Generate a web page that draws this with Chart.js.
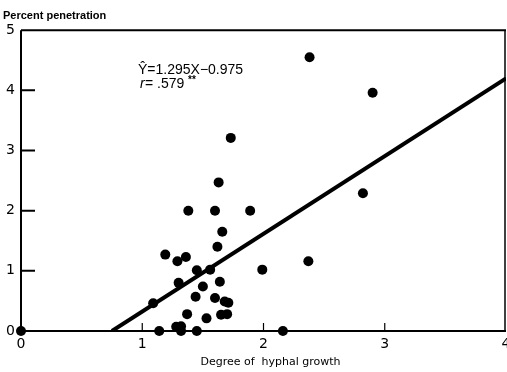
<!DOCTYPE html>
<html lang="en">
<head>
    <meta charset="UTF-8">
    <title>Percent penetration vs hyphal growth</title>
    <script src="https://cdn.jsdelivr.net/npm/chart.js"></script>
    <style>
        html, body { margin: 0; padding: 0; background: #fff; }
        canvas { display: block; }
    </style>
</head>
<body>
    <canvas id="chart" width="507" height="372"></canvas>

    <script>
        // observed points: degree of hyphal growth (x) vs percent penetration (y)
        const hyphalGrowth = [0, 1.09, 1.14, 1.19, 1.28, 1.29, 1.30, 1.32, 1.32, 1.36, 1.37, 1.38, 1.44, 1.45, 1.45, 1.50, 1.53, 1.56,
            1.60, 1.60, 1.62, 1.63, 1.64, 1.65, 1.66, 1.68, 1.70, 1.71, 1.73, 1.89, 1.99, 2.16, 2.37, 2.38, 2.82, 2.90];
        const penetration = [0, 0.46, 0, 1.27, 0.07, 1.16, 0.80, 0.08, 0, 1.23, 0.28, 2.0, 0.57, 1.01, 0, 0.74, 0.21, 1.02,
            2.0, 0.55, 1.40, 2.47, 0.82, 0.27, 1.65, 0.49, 0.28, 0.47, 3.21, 2.0, 1.02, 0, 1.16, 4.55, 2.29, 3.96];

        // regression line endpoints (Y = 1.295X - 0.975, from x-intercept to right edge)
        const fitX = [0.75, 4];
        const fitY = [0, 4.2];

        const xTicks = [0, 1, 2, 3, 4];
        const yTicks = [0, 1, 2, 3, 4, 5];

        const FONT = "'DejaVu Sans', sans-serif";
        const TEXT_FONT = "'Liberation Sans', Arial, sans-serif";

        // frame, inward tick marks and the equation text
        const framePlugin = {
            id: 'frame',
            afterDraw(chart) {
                const ctx = chart.ctx;
                const a = chart.chartArea;
                const xs = chart.scales.x, ys = chart.scales.y;
                ctx.save();
                ctx.strokeStyle = '#000';
                ctx.lineWidth = 2;
                ctx.beginPath();
                ctx.moveTo(a.left, a.top);
                ctx.lineTo(a.left, a.bottom);
                ctx.lineTo(a.right, a.bottom);
                ctx.moveTo(a.left, a.top);
                ctx.lineTo(a.right, a.top);
                ctx.stroke();
                ctx.lineWidth = 1.5;
                ctx.beginPath();
                ctx.moveTo(a.right - 1, a.top);
                ctx.lineTo(a.right - 1, a.bottom);
                ctx.stroke();

                ctx.lineWidth = 2;
                ctx.beginPath();
                yTicks.slice(1, -1).forEach(v => {
                    const y = ys.getPixelForValue(v);
                    ctx.moveTo(a.left, y);
                    ctx.lineTo(a.left + 14, y);
                });
                ctx.stroke();
                ctx.lineWidth = 1.2;
                ctx.beginPath();
                xTicks.slice(1, -1).forEach(v => {
                    const x = xs.getPixelForValue(v);
                    ctx.moveTo(x, a.bottom);
                    ctx.lineTo(x, a.bottom - 8);
                });
                ctx.stroke();

                ctx.fillStyle = '#000';
                ctx.textBaseline = 'middle';
                ctx.textAlign = 'left';
                const x0 = xs.getPixelForValue(0.965);
                ctx.font = '14px ' + TEXT_FONT;
                ctx.fillText('Ŷ=1.295X−0.975', x0, ys.getPixelForValue(4.34));
                const y1 = ys.getPixelForValue(4.1);
                ctx.font = 'italic 14px ' + TEXT_FONT;
                ctx.fillText('r', x0 + 2, y1);
                ctx.font = '14px ' + TEXT_FONT;
                ctx.fillText('= .579', x0 + 7, y1);
                ctx.font = 'bold 10px ' + TEXT_FONT;
                ctx.fillText('**', x0 + 50, y1 - 4);
                ctx.restore();
            }
        };

        const points = hyphalGrowth.map((x, i) => ({ x: x, y: penetration[i] }));
        const fitLine = fitX.map((x, i) => ({ x: x, y: fitY[i] }));

        new Chart(document.getElementById('chart'), {
            type: 'scatter',
            data: {
                datasets: [{
                    label: 'observed',
                    data: points,
                    backgroundColor: '#000',
                    borderWidth: 0,
                    pointRadius: 5,
                    clip: false
                }, {
                    type: 'line',
                    label: 'fit',
                    data: fitLine,
                    borderColor: '#000',
                    borderWidth: 4,
                    pointRadius: 0,
                    fill: false
                }]
            },
            options: {
                responsive: false,
                animation: false,
                devicePixelRatio: 1,
                layout: { autoPadding: false, padding: { left: 3, right: 1, top: 0, bottom: 0 } },
                plugins: {
                    legend: { display: false },
                    tooltip: { enabled: false },
                    title: {
                        display: true,
                        text: 'Percent penetration',
                        align: 'start',
                        color: '#000',
                        font: { family: TEXT_FONT, size: 11, weight: 'bold' },
                        padding: { top: 9, bottom: 8 }
                    }
                },
                scales: {
                    x: {
                        type: 'linear',
                        min: 0,
                        max: 4,
                        afterBuildTicks: s => { s.ticks = xTicks.map(v => ({ value: v })); },
                        afterFit: s => { s.height = 41; s.paddingLeft = 0; s.paddingRight = 0; },
                        grid: { display: false, drawTicks: false },
                        border: { display: false },
                        ticks: { color: '#000', padding: 5, font: { family: FONT, size: 14 } },
                        title: {
                            display: true,
                            text: '    Degree of  hyphal growth',
                            color: '#000',
                            font: { family: FONT, size: 11 },
                            padding: { top: 0, bottom: 3 }
                        }
                    },
                    y: {
                        type: 'linear',
                        min: 0,
                        max: 5,
                        afterBuildTicks: s => { s.ticks = yTicks.map(v => ({ value: v })); },
                        afterFit: s => { s.width = 18; s.paddingTop = 0; s.paddingBottom = 0; },
                        grid: { display: false, drawTicks: false },
                        border: { display: false },
                        ticks: { color: '#000', padding: 6, font: { family: FONT, size: 14 } }
                    }
                }
            },
            plugins: [framePlugin]
        });
    </script>
</body>
</html>
